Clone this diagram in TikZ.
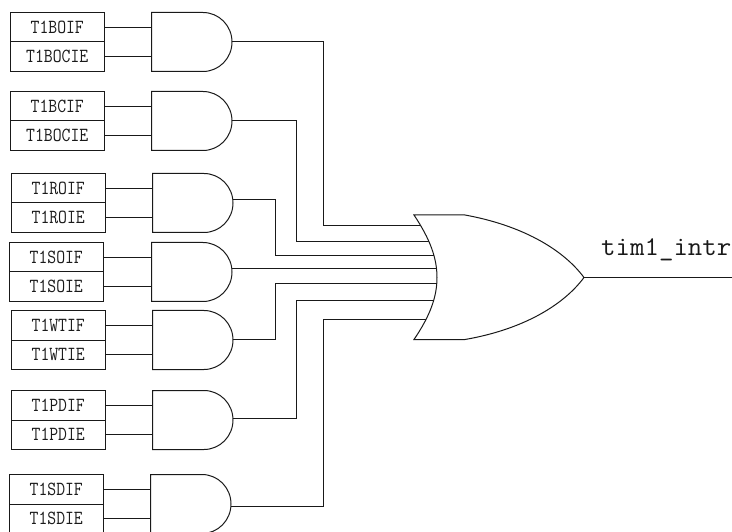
\documentclass[tikz,border=0pt]{standalone}
\usepackage{graphicx}
\definecolor{inkc}{gray}{0.1}
\tikzset{
  x=1pt,y=-1pt,
  wire/.style={draw=inkc,line width=1pt},
  flagbox/.style={draw=inkc,line width=1pt,minimum width=93.5pt,minimum height=29.5pt,inner sep=0pt,outer sep=0pt,text=inkc,anchor=north west},
  gatebody/.style={minimum width=80.5pt,minimum height=59pt,inner sep=0pt,outer sep=0pt,anchor=north west},
  outlabel/.style={inner sep=0pt,anchor=base west,text=inkc}
}
\newcommand{\flagtext}[1]{\scalebox{0.86}[1]{\fontsize{20}{20}\selectfont\ttfamily #1}}
% \androw{id}{box x}{gate x}{top y}{upper label}{lower label}
\newcommand{\androw}[6]{%
  \node[flagbox] (#1a) at (#2,#4) {\flagtext{#5}};
  \node[flagbox] (#1b) at (#2,#4+29.5) {\flagtext{#6}};
  \node[gatebody] (g#1) at (#3,#4) {};
  \draw[wire] (g#1.north west) -- ++(51.5pt,0pt) arc[start angle=90,end angle=-90,x radius=29pt,y radius=29.5pt] -- (g#1.south west) -- cycle;
  \draw[wire] (#1a.east) -- (g#1.west |- #1a.east);
  \draw[wire] (#1b.east) -- (g#1.west |- #1b.east);
}
\begin{document}
\begin{tikzpicture}
\useasboundingbox[clip] (0,0) rectangle (732,532);
\androw{r1}{10.5}{151.5}{12.5}{T1BOIF}{T1BOCIE}
\androw{r2}{10.5}{151.5}{91.5}{T1BCIF}{T1BOCIE}
\androw{r3}{11.5}{152.5}{173.5}{T1ROIF}{T1ROIE}
\androw{r4}{9.5}{151.5}{242.5}{T1SOIF}{T1SOIE}
\androw{r5}{11.5}{152.5}{310.5}{T1WTIF}{T1WTIE}
\androw{r6}{11.5}{152.5}{390.5}{T1PDIF}{T1PDIE}
\androw{r7}{9.5}{150.5}{474.5}{T1SDIF}{T1SDIE}
% OR gate
\draw[wire] (414,215) -- (465,215) .. controls (520,225) and (562,248) .. (584,277.5)
  .. controls (562,307) and (520,330) .. (465,339.5) -- (414,339.5)
  .. controls (430,316) and (437,297) .. (437,277.5)
  .. controls (437,258) and (430,239) .. (414,215) -- cycle;
\coordinate (oi1) at (420.7,226);
\coordinate (oi2) at (429,242);
\coordinate (oi3) at (434,255.5);
\coordinate (oi4) at (437,269);
\coordinate (oi5) at (437,284);
\coordinate (oi6) at (434,301);
\coordinate (oi7) at (425.6,319);
\coordinate (orout) at (584,277.5);
\coordinate (outend) at (732,277.5);
% connectors
\coordinate (k1) at (323,0);
\coordinate (k2) at (296,0);
\coordinate (k3) at (275,0);
\draw[wire] (gr1.east) -- (gr1.east -| k1) -- (k1 |- oi1) -- (oi1);
\draw[wire] (gr2.east) -- (gr2.east -| k2) -- (k2 |- oi2) -- (oi2);
\coordinate (e3) at ([yshift=3pt]gr3.east);
\coordinate (e4) at ([yshift=3pt]gr4.east);
\coordinate (e5) at ([yshift=1pt]gr5.east);
\coordinate (e6) at ([yshift=2pt]gr6.east);
\coordinate (e7) at ([yshift=-2pt]gr7.east);
\draw[wire] (e3) -- (e3 -| k3) -- (k3 |- oi3) -- (oi3);
\draw[wire] (e4) -- (oi4);
\draw[wire] (e5) -- (e5 -| k3) -- (k3 |- oi5) -- (oi5);
\draw[wire] (e6) -- (e6 -| k2) -- (k2 |- oi6) -- (oi6);
\draw[wire] (e7) -- (e7 -| k1) -- (k1 |- oi7) -- (oi7);
\draw[wire] (orout) -- (outend);
\node[outlabel] (lbl) at (601,256) {\scalebox{1.04}[1]{\fontsize{27}{27}\selectfont\ttfamily tim1\_intr}};
\end{tikzpicture}
\end{document}
